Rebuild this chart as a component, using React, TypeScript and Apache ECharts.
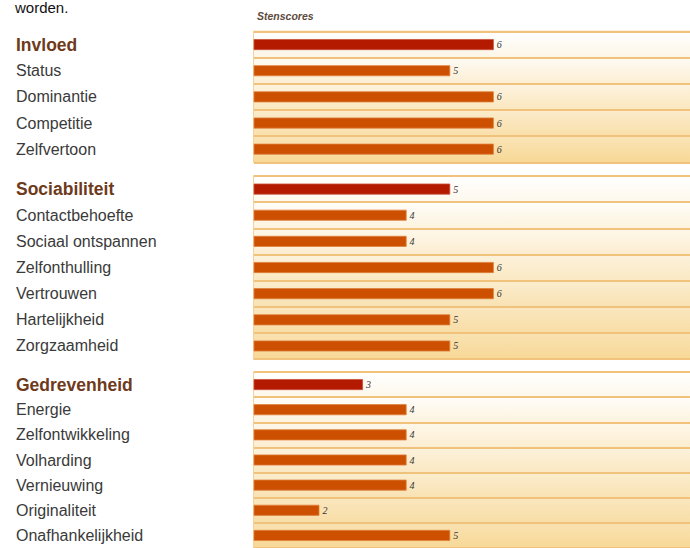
import React, { useEffect, useRef } from "react";
import * as echarts from "echarts";

// ---- data ----
const invloedCats = ["Invloed", "Status", "Dominantie", "Competitie", "Zelfvertoon"];
const invloedVals = [6, 5, 6, 6, 6];
const sociaCats = [
  "Sociabiliteit",
  "Contactbehoefte",
  "Sociaal ontspannen",
  "Zelfonthulling",
  "Vertrouwen",
  "Hartelijkheid",
  "Zorgzaamheid",
];
const sociaVals = [5, 4, 4, 6, 6, 5, 5];
const gedrevCats = [
  "Gedrevenheid",
  "Energie",
  "Zelfontwikkeling",
  "Volharding",
  "Vernieuwing",
  "Originaliteit",
  "Onafhankelijkheid",
];
const gedrevVals = [3, 4, 4, 4, 4, 2, 5];
const axisTitle = "Stenscores";
const introText = "worden.";

const groups = [
  { cats: invloedCats, vals: invloedVals },
  { cats: sociaCats, vals: sociaVals },
  { cats: gedrevCats, vals: gedrevVals },
];

// ---- layout (positions only) ----
const ROW_H = 26.15;
const panelTops = [31.5, 176, 372];
const GRID_LEFT = 254;
const GRID_WIDTH = 437;

function mix(a: number[], b: number[], t: number) {
  const c = a.map((v, i) => Math.round(v + (b[i] - v) * t));
  return `rgb(${c[0]},${c[1]},${c[2]})`;
}
const TOP_C = [255, 255, 255];
const BOT_C = [247, 214, 146];

function rowColors(n: number) {
  const arr: any[] = [];
  for (let i = 0; i < n; i++) {
    const t0 = (i / n) * 0.92;
    const t1 = ((i + 1) / n) * 0.92 + 0.04;
    arr.push(
      new echarts.graphic.LinearGradient(0, 0, 0, 1, [
        { offset: 0, color: mix(TOP_C, BOT_C, Math.max(0, t0 - 0.08)) },
        { offset: 1, color: mix(TOP_C, BOT_C, Math.min(1, t1)) },
      ])
    );
  }
  return arr;
}

export default function App() {
  const ref = useRef<HTMLDivElement>(null);
  useEffect(() => {
    if (!ref.current) return;
    const chart = echarts.init(ref.current, null, { renderer: "svg" });
    const grids: any[] = [];
    const xAxes: any[] = [];
    const yAxes: any[] = [];
    const series: any[] = [];
    groups.forEach((g, i) => {
      grids.push({
        left: GRID_LEFT,
        width: GRID_WIDTH,
        top: panelTops[i],
        height: ROW_H * g.cats.length,
        show: true,
        borderColor: "#F2C47C",
        borderWidth: 1.5,
        backgroundColor: "transparent",
      });
      xAxes.push({
        type: "value",
        gridIndex: i,
        min: 0.5,
        max: 10.5,
        show: false,
        splitLine: { show: false },
      });
      yAxes.push({
        type: "category",
        gridIndex: i,
        data: g.cats,
        inverse: true,
        axisLine: { show: false },
        axisTick: { show: false },
        splitLine: { show: true, lineStyle: { color: "#F1C27C", width: 2 } },
        splitArea: { show: true, areaStyle: { color: rowColors(g.cats.length) } },
        axisLabel: {
          align: "left",
          margin: GRID_LEFT - 16,
          formatter: (v: string, idx: number) => (idx === 0 ? `{h|${v}}` : `{n|${v}}`),
          rich: {
            h: {
              fontFamily: "Liberation Sans, Arial, sans-serif",
              fontWeight: "bold",
              fontSize: 17.5,
              color: "#6E3A1C",
            },
            n: {
              fontFamily: "Liberation Sans, Arial, sans-serif",
              fontSize: 16,
              color: "#3A3A3A",
            },
          },
        },
      });
      series.push({
        type: "bar",
        xAxisIndex: i,
        yAxisIndex: i,
        barWidth: 11,
        data: g.vals.map((v, k) => ({
          value: v,
          itemStyle:
            k === 0
              ? { color: "#B31A00", borderColor: "#C8503C", borderWidth: 0.8 }
              : { color: "#CC5000", borderColor: "#E0803E", borderWidth: 0.8 },
        })),
        label: {
          show: true,
          position: "right",
          distance: 3,
          fontFamily: "Liberation Serif, serif",
          fontStyle: "italic",
          fontSize: 10,
          color: "#333333",
        },
      });
    });

    chart.setOption({
      animation: false,
      backgroundColor: "#FFFFFF",
      grid: grids,
      xAxis: xAxes,
      yAxis: yAxes,
      series,
      graphic: [
        {
          type: "text",
          x: 15,
          y: 0,
          style: {
            text: introText,
            fontFamily: "Liberation Sans, Arial, sans-serif",
            fontSize: 15,
            fill: "#111111",
            verticalAlign: "top",
          },
        },
        {
          type: "text",
          x: 257,
          y: 16,
          style: {
            text: axisTitle,
            fontFamily: "Liberation Sans, Arial, sans-serif",
            fontSize: 10.5,
            fontWeight: "bold",
            fontStyle: "italic",
            fill: "#5E4A3C",
            verticalAlign: "middle",
          },
        },
      ],
    });
    return () => chart.dispose();
  }, []);
  return (
    <div
      ref={ref}
      style={{ position: "absolute", left: 0, top: 0, width: 690, height: 548 }}
    />
  );
}
